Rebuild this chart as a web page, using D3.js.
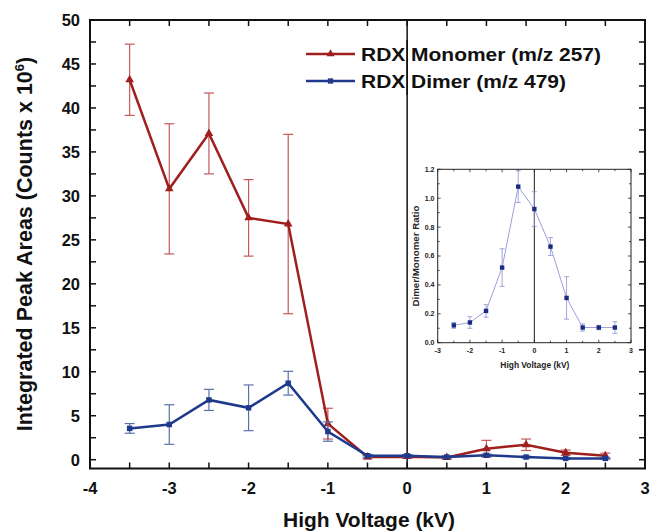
<!DOCTYPE html>
<html>
<head>
  <meta charset="UTF-8">
  <script src="https://d3js.org/d3.v7.min.js"></script>
  <style>
    * { margin: 0; padding: 0; }
    body { background: white; font-family: Arial, "Liberation Sans", sans-serif; }
    text { font-family: Arial, "Liberation Sans", sans-serif; font-weight: bold; }
  </style>
</head>
<body>
  <div id="chart"></div>
  <script>
    // main plot data
    const voltages = [-3.5, -3, -2.5, -2, -1.5, -1, -0.5, 0, 0.5, 1, 1.5, 2, 2.5];
    const monomer = [43.2, 30.8, 37.1, 27.5, 26.8, 4.1, 0.3, 0.35, 0.25, 1.25, 1.7, 0.8, 0.45];
    const monomerErr = [4.05, 7.4, 4.6, 4.35, 10.2, 1.75, 0.2, 0.2, 0.2, 0.95, 0.65, 0.3, 0.3];
    const dimer = [3.56, 4.0, 6.8, 5.9, 8.7, 3.2, 0.45, 0.45, 0.3, 0.5, 0.3, 0.15, 0.15];
    const dimerErr = [0.55, 2.25, 1.2, 2.6, 1.35, 1.1, 0.15, 0.15, 0.1, 0.15, 0.1, 0.1, 0.1];
    const xTicks = [-4, -3, -2, -1, 0, 1, 2, 3];
    const yTicks = [0, 5, 10, 15, 20, 25, 30, 35, 40, 45, 50];

    // inset data
    const insetVoltages = [-2.5, -2, -1.5, -1, -0.5, 0, 0.5, 1, 1.5, 2, 2.5];
    const ratio = [0.12, 0.14, 0.22, 0.52, 1.08, 0.925, 0.665, 0.31, 0.105, 0.105, 0.105];
    const ratioErr = [0.02, 0.04, 0.043, 0.13, 0.11, 0.12, 0.062, 0.147, 0.025, 0.015, 0.04];
    const insetXTicks = [-3, -2, -1, 0, 1, 2, 3];
    const insetYTicks = [0, 0.2, 0.4, 0.6, 0.8, 1.0, 1.2];

    const W = 650, H = 531;
    const red = "#a01e1e", redErr = "#c45a5a";
    const blue = "#1f3a8c", blueErr = "#5a70aa";

    const svg = d3.select("#chart").append("svg")
      .attr("width", W).attr("height", H);

    const x = d3.scaleLinear().domain([-4, 3]).range([90, 645]);
    const y = d3.scaleLinear().domain([-1, 50]).range([468.5, 20]);

    const [x0, x1] = x.range(), [y0, y1] = y.range();

    // minor + major ticks, inward
    const tickLen = 6;
    const xAll = d3.range(-4, 3.01, 0.5);
    const yAll = d3.range(0, 50.01, 2.5);
    const tk = svg.append("g").attr("stroke", "#111").attr("stroke-width", 1.5);
    xAll.forEach(v => {
      tk.append("line").attr("x1", x(v)).attr("x2", x(v)).attr("y1", y0).attr("y2", y0 - tickLen);
      tk.append("line").attr("x1", x(v)).attr("x2", x(v)).attr("y1", y1).attr("y2", y1 + tickLen);
    });
    yAll.forEach(v => {
      tk.append("line").attr("x1", x0).attr("x2", x0 + tickLen).attr("y1", y(v)).attr("y2", y(v));
      tk.append("line").attr("x1", x1).attr("x2", x1 - tickLen).attr("y1", y(v)).attr("y2", y(v));
    });

    svg.append("g").selectAll("text").data(xTicks).join("text")
      .attr("x", d => x(d)).attr("y", 494)
      .attr("text-anchor", "middle").style("font-size", "16.5px").attr("fill", "#111")
      .text(d => d);
    svg.append("g").selectAll("text").data(yTicks).join("text")
      .attr("x", 80).attr("y", d => y(d)).attr("dy", "0.36em")
      .attr("text-anchor", "end").style("font-size", "16.5px").attr("fill", "#111")
      .text(d => d);

    // vertical line at 0
    svg.append("line").attr("x1", x(0)).attr("x2", x(0)).attr("y1", y0).attr("y2", y1)
      .attr("stroke", "#111").attr("stroke-width", 1.5);

    function drawSeries(vals, errs, color, ecolor, marker) {
      const g = svg.append("g");
      const cap = 5;
      vals.forEach((v, i) => {
        const cx = x(voltages[i]);
        const top = y(v + errs[i]), bot = y(Math.max(v - errs[i], -0.9));
        g.append("line").attr("x1", cx).attr("x2", cx).attr("y1", top).attr("y2", bot)
          .attr("stroke", ecolor).attr("stroke-width", 1.2);
        [top, bot].forEach(yy => g.append("line").attr("x1", cx - cap).attr("x2", cx + cap)
          .attr("y1", yy).attr("y2", yy).attr("stroke", ecolor).attr("stroke-width", 1.2));
      });
      const line = d3.line().x((d, i) => x(voltages[i])).y(d => y(d));
      g.append("path").datum(vals).attr("d", line)
        .attr("fill", "none").attr("stroke", color).attr("stroke-width", 2.5);
      g.selectAll(".m").data(vals).join("path")
        .attr("transform", (d, i) => `translate(${x(voltages[i])},${y(d)})`)
        .attr("d", d3.symbol().type(marker).size(marker === d3.symbolTriangle ? 32 : 30))
        .attr("fill", color);
    }
    drawSeries(monomer, monomerErr, red, redErr, d3.symbolTriangle);
    drawSeries(dimer, dimerErr, blue, blueErr, d3.symbolSquare);

    svg.append("rect").attr("x", x0).attr("y", y1).attr("width", x1 - x0).attr("height", y0 - y1)
      .attr("fill", "none").attr("stroke", "#111").attr("stroke-width", 2);

    // legend
    const leg = [
      {label: "RDX Monomer (m/z 257)", color: red, marker: d3.symbolTriangle, y: 54, w: 240},
      {label: "RDX Dimer (m/z 479)", color: blue, marker: d3.symbolSquare, y: 81, w: 205}
    ];
    leg.forEach(l => {
      svg.append("line").attr("x1", 306).attr("x2", 355).attr("y1", l.y).attr("y2", l.y)
        .attr("stroke", l.color).attr("stroke-width", 2.5);
      svg.append("path").attr("transform", `translate(330.5,${l.y})`)
        .attr("d", d3.symbol().type(l.marker).size(28)).attr("fill", l.color);
      svg.append("text").attr("x", 361).attr("y", l.y).attr("dy", "0.36em")
        .attr("textLength", l.w).attr("lengthAdjust", "spacingAndGlyphs")
        .style("font-size", "19px").attr("fill", "#111").text(l.label);
    });
    // the zero line crosses the legend text
    svg.append("line").attr("x1", x(0)).attr("x2", x(0)).attr("y1", 40).attr("y2", 95)
      .attr("stroke", "#111").attr("stroke-width", 1.5);

    // axis titles
    svg.append("text").attr("x", 369).attr("y", 527).attr("text-anchor", "middle")
      .attr("textLength", 172).attr("lengthAdjust", "spacingAndGlyphs")
      .style("font-size", "20.5px").attr("fill", "#111").text("High Voltage (kV)");
    const yl = svg.append("text").attr("transform", "translate(32,244) rotate(-90)")
      .attr("text-anchor", "middle").style("font-size", "21.5px").attr("fill", "#111");
    yl.append("tspan").text("Integrated Peak Areas (Counts x 10");
    yl.append("tspan").attr("dy", "-8").style("font-size", "13px").text("6");
    yl.append("tspan").attr("dy", "8").text(")");

    // inset
    const ix = d3.scaleLinear().domain([-3, 3]).range([437.7, 631]);
    const iy = d3.scaleLinear().domain([0, 1.2]).range([342.7, 169.3]);
    const ig = svg.append("g");
    ig.append("rect").attr("x", 437.7).attr("y", 169.3).attr("width", 631 - 437.7).attr("height", 342.7 - 169.3)
      .attr("fill", "white");
    const itk = ig.append("g").attr("stroke", "#222").attr("stroke-width", 0.8);
    d3.range(-3, 3.01, 0.5).forEach(v => {
      const l = Number.isInteger(v) ? 3 : 2;
      itk.append("line").attr("x1", ix(v)).attr("x2", ix(v)).attr("y1", 342.7).attr("y2", 342.7 - l);
      itk.append("line").attr("x1", ix(v)).attr("x2", ix(v)).attr("y1", 169.3).attr("y2", 169.3 + l);
    });
    d3.range(0, 1.201, 0.1).forEach((v, i) => {
      const l = i % 2 === 0 ? 3 : 2;
      itk.append("line").attr("x1", 437.7).attr("x2", 437.7 + l).attr("y1", iy(v)).attr("y2", iy(v));
      itk.append("line").attr("x1", 631).attr("x2", 631 - l).attr("y1", iy(v)).attr("y2", iy(v));
    });
    ig.append("line").attr("x1", ix(0)).attr("x2", ix(0)).attr("y1", 342.7).attr("y2", 169.3)
      .attr("stroke", "#222").attr("stroke-width", 1);
    ratio.forEach((v, i) => {
      const cx = ix(insetVoltages[i]);
      const top = iy(Math.min(v + ratioErr[i], 1.2)), bot = iy(v - ratioErr[i]);
      ig.append("line").attr("x1", cx).attr("x2", cx).attr("y1", top).attr("y2", bot)
        .attr("stroke", "#8c8fd0").attr("stroke-width", 0.8);
      [top, bot].forEach(yy => ig.append("line").attr("x1", cx - 2.5).attr("x2", cx + 2.5)
        .attr("y1", yy).attr("y2", yy).attr("stroke", "#8c8fd0").attr("stroke-width", 0.8));
    });
    ig.append("path").datum(ratio)
      .attr("d", d3.line().x((d, i) => ix(insetVoltages[i])).y(d => iy(d)))
      .attr("fill", "none").attr("stroke", "#9c9fdc").attr("stroke-width", 1);
    ig.selectAll(".im").data(ratio).join("rect")
      .attr("x", (d, i) => ix(insetVoltages[i]) - 2.2).attr("y", d => iy(d) - 2.2)
      .attr("width", 4.4).attr("height", 4.4).attr("fill", "#1a2a80");
    ig.append("rect").attr("x", 437.7).attr("y", 169.3).attr("width", 631 - 437.7).attr("height", 342.7 - 169.3)
      .attr("fill", "none").attr("stroke", "#222").attr("stroke-width", 1);
    ig.selectAll(".ixl").data(insetXTicks).join("text")
      .attr("x", d => ix(d)).attr("y", 352.5).attr("text-anchor", "middle")
      .style("font-size", "7px").attr("fill", "#222").text(d => d);
    ig.selectAll(".iyl").data(insetYTicks).join("text")
      .attr("x", 434.5).attr("y", d => iy(d)).attr("dy", "0.35em").attr("text-anchor", "end")
      .style("font-size", "7px").attr("fill", "#222").text(d => d3.format(".1f")(d));
    ig.append("text").attr("x", ix(0) + 0.5).attr("y", 368).attr("text-anchor", "middle")
      .attr("textLength", 69).attr("lengthAdjust", "spacingAndGlyphs")
      .style("font-size", "8.5px").attr("fill", "#222").text("High Voltage (kV)");
    ig.append("text").attr("transform", `translate(419,${iy(0.6)}) rotate(-90)`)
      .attr("text-anchor", "middle").attr("textLength", 101).attr("lengthAdjust", "spacingAndGlyphs")
      .style("font-size", "8.5px").attr("fill", "#222")
      .text("Dimer/Monomer Ratio");
  </script>
</body>
</html>
